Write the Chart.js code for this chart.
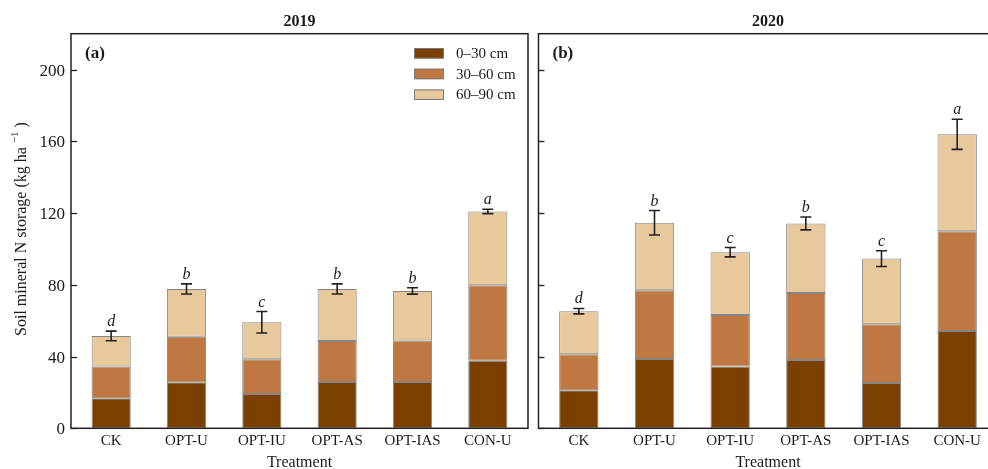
<!DOCTYPE html>
<html>
<head>
<meta charset="utf-8">
<script src="https://cdn.jsdelivr.net/npm/chart.js@4.4.1/dist/chart.umd.min.js"></script>
<style>
  html, body { margin: 0; padding: 0; background: #fff; }
  #wrap { position: relative; width: 988px; height: 469px; overflow: hidden; background: #fff; }
  #pa { position: absolute; left: 0; top: 0; }
  #pbBox { position: absolute; left: 533px; top: 0; width: 455px; height: 469px; overflow: hidden; }
  #pb { position: absolute; left: 0; top: 0; }
</style>
</head>
<body>
<div id="wrap">
  <canvas id="pa" width="533" height="469"></canvas>
  <div id="pbBox"><canvas id="pb" width="480" height="469"></canvas></div>
</div>
<script>
// Treatments and soil layers
const categories = ['CK', 'OPT-U', 'OPT-IU', 'OPT-AS', 'OPT-IAS', 'CON-U'];
const layers = ['0\u201330 cm', '30\u201360 cm', '60\u201390 cm'];
const yTicks = [0, 40, 80, 120, 160, 200];

// 2019 mineral N storage by layer (kg ha-1)
const y2019_0_30  = [16.7, 25.7, 19.1, 25.8, 25.8, 37.7];
const y2019_30_60 = [17.7, 25.3, 19.4, 22.9, 23.1, 42.1];
const y2019_60_90 = [17.1, 26.7, 20.6, 29.0, 27.7, 41.1];
const err2019     = [2.7, 2.8, 6.0, 2.8, 1.8, 1.2];
const sig2019     = ['d', 'b', 'c', 'b', 'b', 'a'];

// 2020 mineral N storage by layer (kg ha-1)
const y2020_0_30  = [21.2, 38.7, 34.4, 38.1, 25.3, 54.3];
const y2020_30_60 = [20.1, 38.3, 28.7, 37.4, 32.7, 55.6];
const y2020_60_90 = [24.0, 37.6, 35.1, 38.7, 36.6, 54.0];
const err2020     = [1.5, 6.8, 2.6, 3.6, 4.4, 8.4];
const sig2020     = ['d', 'b', 'c', 'b', 'c', 'a'];

const layerColors = ['#7b3f00', '#c07843', '#e8c99b'];
const SERIF = '"Liberation Serif", "Times New Roman", serif';
const INK = '#1a1a1a';

// Draws frame, ticks, labels, error bars and significance letters
const decor = {
  id: 'decor',
  afterDraw(chart, args, o) {
    const ctx = chart.ctx;
    const xs = chart.scales.x, ys = chart.scales.y;
    const top = chart.chartArea.top, bottom = chart.chartArea.bottom;
    const fl = o.frameLeft, fr = o.frameRight;
    ctx.save();

    // error bars and letters on the stacked totals
    const ds = chart.data.datasets;
    ctx.strokeStyle = '#222';
    ctx.lineWidth = 1.6;
    ctx.fillStyle = INK;
    ctx.font = 'italic 16px ' + SERIF;
    ctx.textAlign = 'center';
    ctx.textBaseline = 'alphabetic';
    categories.forEach((c, i) => {
      const total = ds.reduce((s, d) => s + d.data[i], 0);
      const x = xs.getPixelForValue(i);
      const yt = ys.getPixelForValue(total + o.err[i]);
      const yb = ys.getPixelForValue(total - o.err[i]);
      ctx.beginPath();
      ctx.moveTo(x, yt); ctx.lineTo(x, yb);
      ctx.moveTo(x - 5.5, yt); ctx.lineTo(x + 5.5, yt);
      ctx.moveTo(x - 5.5, yb); ctx.lineTo(x + 5.5, yb);
      ctx.stroke();
      ctx.fillText(o.sig[i], x, yt - 5);
    });

    // panel frame
    ctx.strokeStyle = '#222';
    ctx.lineWidth = 1.5;
    ctx.strokeRect(fl, top, fr - fl, bottom - top);

    // y ticks (inward)
    ctx.lineWidth = 1.3;
    ctx.font = '17px ' + SERIF;
    ctx.textAlign = 'right';
    ctx.textBaseline = 'middle';
    yTicks.forEach(v => {
      const y = Math.round(ys.getPixelForValue(v)) + 0.5;
      ctx.beginPath();
      ctx.moveTo(fl, y); ctx.lineTo(fl + 6, y);
      ctx.stroke();
      if (o.yLabels) ctx.fillText(String(v), fl - 6, y + 1);
    });

    // category labels
    ctx.textAlign = 'center';
    ctx.font = '15px ' + SERIF;
    categories.forEach((c, i) => ctx.fillText(c, xs.getPixelForValue(i), bottom + 13));
    ctx.font = '16px ' + SERIF;
    ctx.fillText('Treatment', (fl + fr) / 2, bottom + 34);

    // panel title and tag
    ctx.font = 'bold 16px ' + SERIF;
    ctx.fillText(o.title, (fl + fr) / 2, 22);
    ctx.font = 'bold 17px ' + SERIF;
    ctx.textAlign = 'left';
    ctx.fillText(o.tag, fl + 14, 54);

    // legend
    if (o.legend) {
      ctx.font = '15px ' + SERIF;
      ctx.lineWidth = 1;
      layers.forEach((name, k) => {
        const cy = 53 + k * 20.7;
        ctx.fillStyle = layerColors[k];
        ctx.fillRect(414, cy - 5, 30, 10.5);
        ctx.strokeStyle = '#7a7a7a';
        ctx.strokeRect(414.5, cy - 4.5, 29, 9.5);
        ctx.fillStyle = INK;
        ctx.fillText(name, 456, cy + 1);
      });
    }

    // y axis title with superscript
    if (o.yTitle) {
      ctx.translate(22, 229);
      ctx.rotate(-Math.PI / 2);
      const main = 'Soil mineral N storage (kg ha ';
      ctx.font = '16px ' + SERIF;
      const wMain = ctx.measureText(main).width;
      ctx.font = '11px ' + SERIF;
      const sup = '\u22121';
      const wSup = ctx.measureText(sup).width;
      ctx.font = '16px ' + SERIF;
      const wEnd = ctx.measureText(' )').width;
      let x0 = -(wMain + wSup + wEnd) / 2;
      ctx.textAlign = 'left';
      ctx.fillStyle = INK;
      ctx.fillText(main, x0, 0);
      ctx.font = '11px ' + SERIF;
      ctx.fillText(sup, x0 + wMain, -7);
      ctx.font = '16px ' + SERIF;
      ctx.fillText(' )', x0 + wMain + wSup, 0);
    }
    ctx.restore();
  }
};

function makePanel(id, values, pad, decorOpts) {
  return new Chart(document.getElementById(id), {
    type: 'bar',
    data: {
      labels: categories,
      datasets: layers.map((name, k) => ({
        label: name,
        data: values[k],
        backgroundColor: layerColors[k],
        borderColor: '#858585',
        borderWidth: 1,
        borderSkipped: false,
        barPercentage: 0.52,
        categoryPercentage: 1
      }))
    },
    options: {
      responsive: false,
      animation: false,
      devicePixelRatio: 1,
      layout: { padding: pad },
      plugins: { legend: { display: false }, tooltip: { enabled: false }, decor: decorOpts },
      scales: {
        x: { stacked: true, display: false },
        y: { stacked: true, display: false, min: 0, max: 220 }
      }
    },
    plugins: [decor]
  });
}

makePanel('pa', [y2019_0_30, y2019_30_60, y2019_60_90],
  { left: 73.5, right: 7.5, top: 33.7, bottom: 40.7 },
  { frameLeft: 71, frameRight: 528, err: err2019, sig: sig2019, yLabels: true,
    title: '2019', tag: '(a)', legend: true, yTitle: true });

makePanel('pb', [y2020_0_30, y2020_30_60, y2020_60_90],
  { left: 8, right: 18, top: 33.7, bottom: 40.7 },
  { frameLeft: 5.5, frameRight: 464.5, err: err2020, sig: sig2020, yLabels: false,
    title: '2020', tag: '(b)', legend: false, yTitle: false });
</script>
</body>
</html>
